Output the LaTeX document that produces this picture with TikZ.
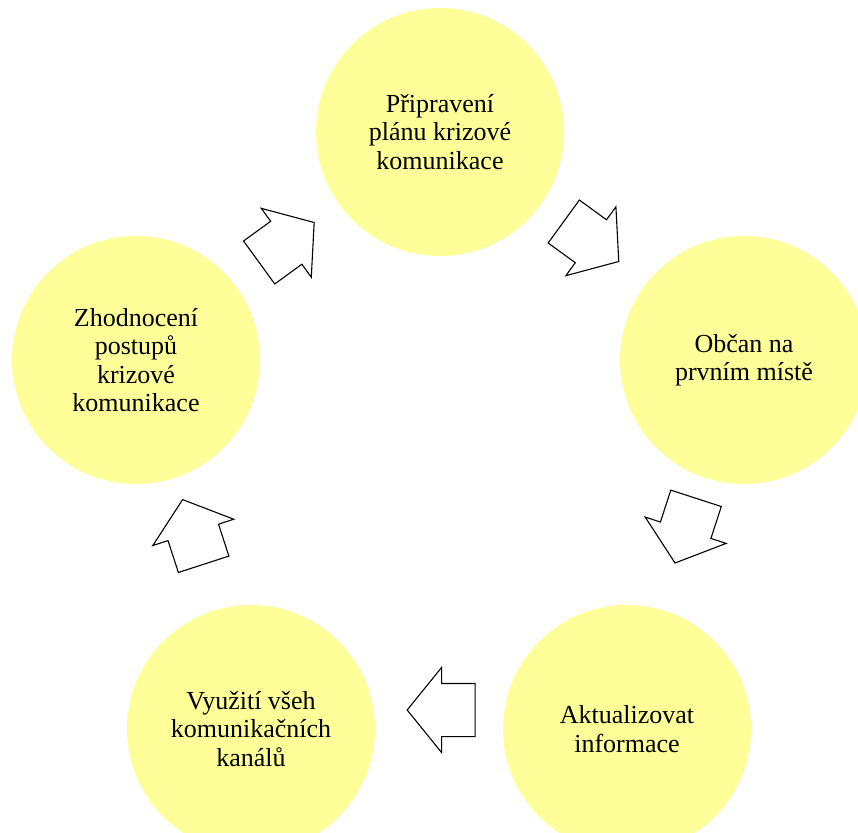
\documentclass[tikz,border=0pt]{standalone}
\usepackage{fontspec}
\setmainfont{Liberation Serif}
\usepackage{xcolor}
\usetikzlibrary{shapes.arrows}

\definecolor{circfill}{HTML}{FFFF99}

\begin{document}
\begin{tikzpicture}[x=1pt,y=-1pt,
    phase/.style={circle,fill=circfill,minimum size=248pt,inner sep=0pt,align=center,
      font=\fontsize{26}{28.5}\selectfont},
    flow/.style={single arrow,draw,fill=white,line width=1.1pt,inner sep=0pt,anchor=tail,
      text height=26pt,text depth=26pt,text width=0pt,
      minimum height=68pt,minimum width=84pt,single arrow head extend=16pt,
      single arrow tip angle=102,single arrow head indent=0pt}]
    \useasboundingbox (0,0) rectangle (858,832);
    \node[phase] (plan) at (440,132) {Připravení\\plánu krizové\\komunikace};
    \node[phase] (citizen) at (744,360) {Občan na\\prvním místě};
    \node[phase] (update) at (627,729) {Aktualizovat\\informace};
    \node[phase] (channels) at (251,729) {Využití všeh\\komunikačních\\kanálů};
    \node[phase] (review) at (136,360) {Zhodnocení\\postupů\\krizové\\komunikace};
    % block arrows between the phases
    \node[flow,rotate=-36] (plan-citizen) at (563.3,221.2) {};
    \node[flow,rotate=-108] (citizen-update) at (696.2,497.8) {};
    \node[flow,rotate=180] (update-channels) at (475.7,710) {};
    \node[flow,rotate=108] (channels-review) at (203.8,564.8) {};
    \node[flow,rotate=36] (review-plan) at (258.7,262.8) {};
\end{tikzpicture}
\end{document}
